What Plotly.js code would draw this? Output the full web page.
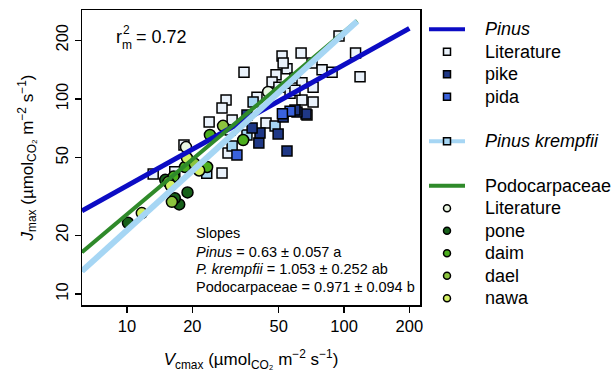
<!DOCTYPE html>
<html><head><meta charset="utf-8">
<script src="https://cdn.plot.ly/plotly-3.0.1.min.js"></script>
<style>html,body{margin:0;padding:0;background:#fff}#chart{width:615px;height:377px}</style>
</head><body><div id="chart"></div>
<script>
// ---------------- data (Vcmax, Jmax) ----------------
const pinusLitV = [94.8, 51.8, 63.4, 71.2, 113, 118.5, 34.6, 48.6, 54.6, 59.4, 79.2, 88.1, 46.6, 50.1, 64, 72, 39.7, 56.4, 64, 72, 28.6, 27.4, 30.5, 23.9, 43.7, 67.5, 29.9, 18.3, 29.2, 27.4, 13.2, 16.6, 52.4, 59.4];
const pinusLitJ = [210, 166, 172, 153, 172, 130, 137, 133, 143, 128, 141, 137, 122, 115, 121, 115, 102, 107, 98.8, 96.6, 98.8, 89.9, 78, 76.2, 75.3, 82.8, 69.4, 58.1, 52.9, 41.8, 41.2, 42.3, 153, 111];
const krempV = [38.1, 35.7, 30.5, 23.3, 48.1];
const krempJ = [96.6, 65.3, 57.4, 41.6, 72.7];
const pikeV = [54.6, 40.5, 41, 49.7, 37.7, 52.4, 66.8, 60.7, 35.7, 59.4];
const pikeJ = [54.1, 59.4, 67, 66.2, 71, 80.9, 83.8, 85.7, 82.8, 87.8];
const pidaV = [56.4, 52.0, 32.1];
const pidaJ = [86.5, 84.0, 51.6];
const podoLitV = [44.7, 18.7];
const podoLitJ = [108.6, 56.7];
const poneV = [19.0, 17.4, 10.1, 15.0, 16.6];
const poneJ = [33.2, 28.8, 23.2, 38.5, 31.0];
const daimV = [24.1, 23.4, 18.5, 34.3, 16.4];
const daimJ = [65.4, 44.8, 44.8, 61.6, 40.0];
const daelV = [27.7, 15.5, 16.1, 20.5];
const daelJ = [72.8, 37.5, 29.7, 46.5];
const nawaV = [11.7, 18.9, 15.9, 21.5];
const nawaJ = [26.0, 49.8, 36.0, 43.0];

// fitted lines (log10 J = a + b log10 V)
const fitNames = ['Pinus', 'Podocarpaceae', 'Pinus krempfii'];
const fitSlopes = [0.62, 0.935, 1.01];
const fitIntercepts = [0.9355, 0.4734, 0.3173];
const fitXmin = [6.2, 6.2, 6.2];
const fitXmax = [200, 115, 115];

const tickVals = [10, 20, 50, 100, 200];
const tickText = ['10', '20', '50', '100', '200'];

const slopeLines = ['Slopes', '<i>Pinus</i> = 0.63 ± 0.057 a', '<i>P. krempfii</i> = 1.053 ± 0.252 ab', 'Podocarpaceae = 0.971 ± 0.094 b'];

// ---------------- styles ----------------
const FONT = 'Liberation Sans, Arial, sans-serif';
const C = {
  pinus: '#0c0cc4', kremp: '#a6d6f4', podo: '#2f8a2a',
  lit: '#eaf2fb', pike: '#1f3886', pida: '#3a62dc',
  podoLit: '#eaf6e2', pone: '#17601a', daim: '#4cae1e', dael: '#8cc43e', nawa: '#d2ef62'
};
const fitColors = [C.pinus, C.podo, C.kremp];
const fitWidths = [5, 4, 6];

// plot box in pixels
const L = 82, R = 420, T = 10, B = 305, W = 615, H = 377;
const px = x => (x - L) / (R - L);
const py = y => (B - y) / (B - T);

function pts(v, j, sym, fill, size) {
  return {x: v, y: j, type: 'scatter', mode: 'markers', showlegend: false, hoverinfo: 'skip',
    marker: {symbol: sym, size: size, color: fill, line: {color: '#000', width: 1.5}}};
}
const traces = [
  pts(pinusLitV, pinusLitJ, 'square', C.lit, 10),
  pts(krempV, krempJ, 'square', C.kremp, 10),
  pts(pikeV, pikeJ, 'square', C.pike, 10),
  pts(pidaV, pidaJ, 'square', C.pida, 10),
  pts(podoLitV, podoLitJ, 'circle', C.podoLit, 11),
  pts(poneV, poneJ, 'circle', C.pone, 11),
  pts(daimV, daimJ, 'circle', C.daim, 11),
  pts(daelV, daelJ, 'circle', C.dael, 11),
  pts(nawaV, nawaJ, 'circle', C.nawa, 11)
];
fitNames.forEach((n, i) => {
  const xs = [fitXmin[i], fitXmax[i]];
  const ys = xs.map(x => Math.pow(10, fitIntercepts[i] + fitSlopes[i] * Math.log10(x)));
  traces.push({x: xs, y: ys, type: 'scatter', mode: 'lines', showlegend: false, hoverinfo: 'skip',
    line: {color: fitColors[i], width: fitWidths[i]}});
});

// legend entries
const big = s => '<span style="font-size:18px">&nbsp;&nbsp;&nbsp;' + s + '</span>';
function legLine(name, color, group) {
  return {x: [null], y: [null], type: 'scatter', mode: 'lines', name: big(name), legendgroup: group,
    line: {color: color, width: 4}};
}
function legMark(name, sym, fill, group) {
  return {x: [null], y: [null], type: 'scatter', mode: 'markers', name: big(name), legendgroup: group,
    marker: {symbol: sym, size: 7, color: fill, line: {color: '#000', width: 1.5}}};
}
traces.push(
  legLine('<i>Pinus</i>', C.pinus, 'g1'),
  legMark('Literature', 'square', C.lit, 'g1'),
  legMark('pike', 'square', C.pike, 'g1'),
  legMark('pida', 'square', C.pida, 'g1'),
  {x: [null], y: [null], type: 'scatter', mode: 'lines+markers', name: big('<i>Pinus krempfii</i>'), legendgroup: 'g2',
    line: {color: C.kremp, width: 4}, marker: {symbol: 'square', size: 7, color: C.kremp, line: {color: '#000', width: 1.5}}},
  legLine('Podocarpaceae', C.podo, 'g3'),
  legMark('Literature', 'circle', C.podoLit, 'g3'),
  legMark('pone', 'circle', C.pone, 'g3'),
  legMark('daim', 'circle', C.daim, 'g3'),
  legMark('dael', 'circle', C.dael, 'g3'),
  legMark('nawa', 'circle', C.nawa, 'g3')
);

const ann = [];
function txt(text, x, y, size, xanchor) {
  ann.push({text: text, xref: 'paper', yref: 'paper', x: px(x), y: py(y), xanchor: xanchor || 'left', yanchor: 'middle',
    showarrow: false, font: {size: size, family: FONT, color: '#000'}});
}
txt('r', 114, 37, 18);
txt('2', 121, 30, 12);
txt('m', 120, 45, 12);
txt('= 0.72', 134, 37, 18);
const slopeY = [233, 252, 269, 287];
slopeLines.forEach((s, i) => txt(s, 194, slopeY[i], 14.5));

const axisCommon = {
  type: 'log', showgrid: false, zeroline: false, showline: true, mirror: true, linecolor: '#000', linewidth: 1.5,
  ticks: 'outside', ticklen: 6, tickwidth: 1.2, tickcolor: '#000', tickvals: tickVals, ticktext: tickText,
  tickfont: {size: 16.5, family: FONT, color: '#000'}, automargin: false
};
const layout = {
  width: W, height: H, margin: {l: L, r: W - R, t: T, b: H - B, autoexpand: false},
  paper_bgcolor: '#fff', plot_bgcolor: '#fff', font: {family: FONT, color: '#000'},
  xaxis: Object.assign({}, axisCommon, {range: [0.7926, 2.350],
    title: {text: '<i>V</i><sub>cmax</sub> (µmol<sub>CO₂</sub> m<sup>−2</sup> s<sup>−1</sup>)', font: {size: 17, family: FONT}, standoff: 19}}),
  yaxis: Object.assign({}, axisCommon, {range: [0.944, 2.456], tickangle: -90,
    title: {text: '<i>J</i><sub>max</sub> (µmol<sub>CO₂</sub> m<sup>−2</sup> s<sup>−1</sup>)', font: {size: 17, family: FONT}, standoff: 15}}),
  legend: {x: px(424), xanchor: 'left', y: py(13), yanchor: 'top', traceorder: 'grouped', tracegroupgap: 22,
    itemwidth: 36, font: {size: 15, family: FONT, color: '#000'}, bgcolor: 'rgba(0,0,0,0)'},
  showlegend: true,
  annotations: ann
};
Plotly.newPlot('chart', traces, layout, {displayModeBar: false, staticPlot: true});
</script></body></html>
